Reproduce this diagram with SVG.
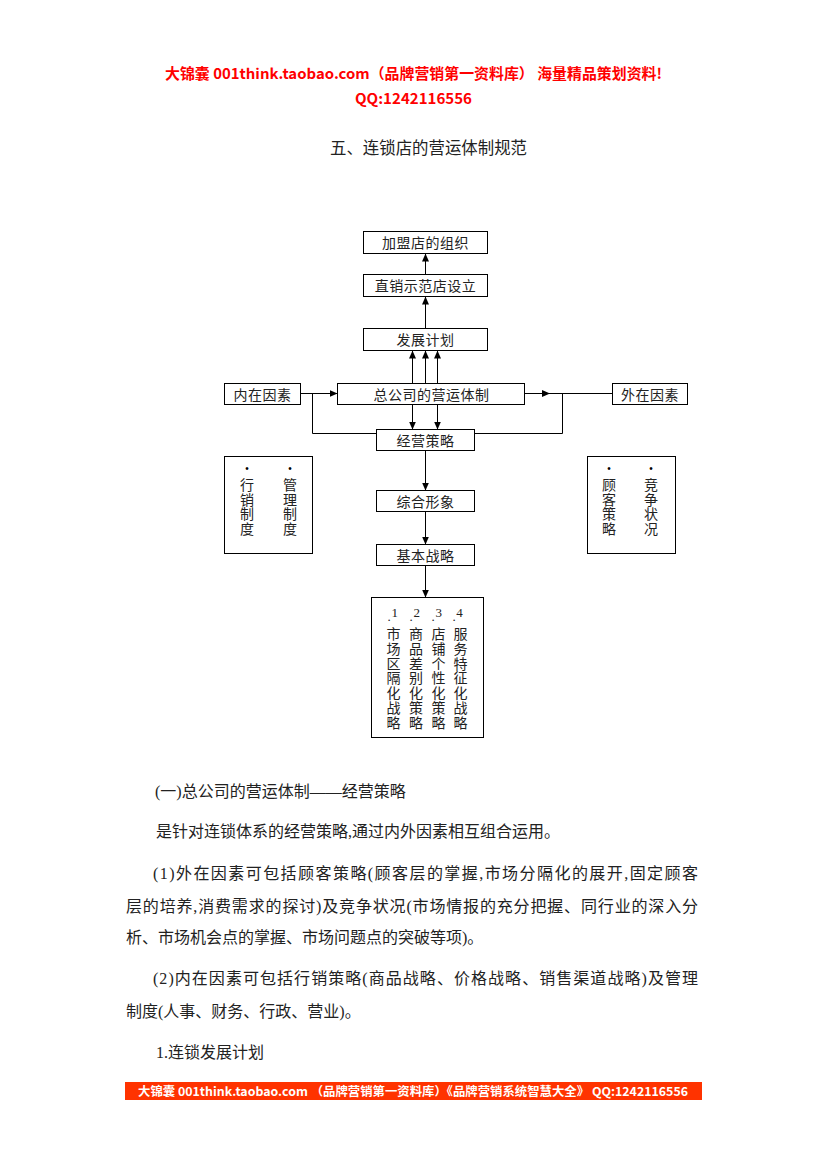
<svg xmlns="http://www.w3.org/2000/svg" width="827" height="1169" viewBox="0 0 827 1169">
<defs>
<marker id="ah" markerUnits="userSpaceOnUse" markerWidth="8" markerHeight="8" refX="8" refY="4" orient="auto" viewBox="0 0 8 8"><path d="M0,0.5 L8,4 L0,7.5 z" fill="#000"/></marker>
</defs>
<style>
.box{fill:#fff;stroke:#000;stroke-width:1}
.lbl{font-family:"Noto Sans CJK SC",sans-serif;font-size:14px;letter-spacing:0.5px;fill:#222;text-anchor:middle}
.vcol{font-family:"Noto Sans CJK SC",sans-serif;font-size:14px;fill:#222;writing-mode:vertical-rl;text-orientation:upright}
.v1{letter-spacing:0.5px}
.v2{letter-spacing:0.7px}
.num{font-family:"Liberation Serif","Noto Sans CJK SC",serif;font-size:13px;fill:#222;text-anchor:middle}
.bul{font-family:"Liberation Sans",sans-serif;font-size:10px;fill:#000;text-anchor:middle}
.ln{fill:none;stroke:#000;stroke-width:1}
.arr{fill:none;stroke:#000;stroke-width:1;marker-end:url(#ah)}
.body{font-family:"Liberation Serif","Noto Sans CJK SC",serif;font-size:16px;fill:#222}
.hdr{font-family:"Noto Sans CJK SC",sans-serif;font-weight:bold;font-size:14.5px;fill:#f00;text-anchor:middle}
.ttl{font-family:"Noto Sans CJK SC",sans-serif;font-size:16.5px;fill:#222;text-anchor:middle}
.ftr{font-family:"Noto Sans CJK SC",sans-serif;font-weight:bold;font-size:12px;fill:#fff}
</style>
<rect width="827" height="1169" fill="#fff"/>

<g id="header">
<text class="hdr" x="413.5" y="79" textLength="497" lengthAdjust="spacingAndGlyphs">大锦囊  001think.taobao.com（品牌营销第一资料库） 海量精品策划资料!</text>
<text class="hdr" x="413.5" y="104" textLength="117" lengthAdjust="spacingAndGlyphs">QQ:1242116556</text>
<text class="ttl" x="428.5" y="154" textLength="197" lengthAdjust="spacingAndGlyphs">五、连锁店的营运体制规范</text>
</g>

<g id="connectors">
<path class="arr" d="M425.5,274.5 V253.5"/>
<path class="arr" d="M425.5,328.5 V296.5"/>
<path class="arr" d="M412.5,383.5 V350.5"/>
<path class="arr" d="M425.5,383.5 V350.5"/>
<path class="arr" d="M437.5,383.5 V350.5"/>
<path class="arr" d="M300.5,393.5 H337.5"/>
<path class="ln" d="M312.5,393.5 V433.5 H376.5"/>
<path class="arr" d="M524.5,393.5 H550"/>
<path class="ln" d="M550,393.5 H612.5"/>
<path class="ln" d="M562.5,393.5 V433.5 H474.5"/>
<path class="arr" d="M412.5,404.5 V429.5"/>
<path class="arr" d="M437.5,404.5 V429.5"/>
<path class="arr" d="M425.5,450.5 V490.5"/>
<path class="arr" d="M425.5,511.5 V544.5"/>
<path class="arr" d="M425.5,565.5 V597.5"/>
</g>

<g id="n-jiameng">
<rect class="box" x="363.5" y="231.5" width="124" height="22"/>
<text class="lbl" x="425.5" y="248">加盟店的组织</text>
</g>
<g id="n-zhixiao">
<rect class="box" x="363.5" y="274.5" width="124" height="22"/>
<text class="lbl" x="425.5" y="291">直销示范店设立</text>
</g>
<g id="n-fazhan">
<rect class="box" x="363.5" y="328.5" width="124" height="22"/>
<text class="lbl" x="425.5" y="345">发展计划</text>
</g>
<g id="n-zonggongsi">
<rect class="box" x="337.5" y="383.5" width="187" height="21"/>
<text class="lbl" x="431.5" y="399.5">总公司的营运体制</text>
</g>
<g id="n-neizai">
<rect class="box" x="224.5" y="383.5" width="76" height="21"/>
<text class="lbl" x="262.5" y="399.5">内在因素</text>
</g>
<g id="n-waizai">
<rect class="box" x="612.5" y="383.5" width="75" height="21"/>
<text class="lbl" x="650" y="399.5">外在因素</text>
</g>
<g id="n-jingying">
<rect class="box" x="376.5" y="429.5" width="98" height="21"/>
<text class="lbl" x="425.5" y="445.5">经营策略</text>
</g>
<g id="n-zonghe">
<rect class="box" x="376.5" y="490.5" width="98" height="21"/>
<text class="lbl" x="425.5" y="506.5">综合形象</text>
</g>
<g id="n-jiben">
<rect class="box" x="376.5" y="544.5" width="98" height="21"/>
<text class="lbl" x="425.5" y="560.5">基本战略</text>
</g>

<g id="n-inner-list">
<rect class="box" x="224.5" y="456.5" width="88" height="97"/>
<text class="bul" x="247" y="471.5">•</text>
<text class="bul" x="290" y="471.5">•</text>
<text class="vcol v1" x="247" y="478">行销制度</text>
<text class="vcol v1" x="290" y="478">管理制度</text>
</g>

<g id="n-outer-list">
<rect class="box" x="587.5" y="456.5" width="88" height="97"/>
<text class="bul" x="609" y="471.5">•</text>
<text class="bul" x="651" y="471.5">•</text>
<text class="vcol v1" x="609" y="478">顾客策略</text>
<text class="vcol v1" x="651" y="478">竞争状况</text>
</g>

<g id="n-strategies">
<rect class="box" x="371.5" y="597.5" width="112" height="140"/>
<text class="num" x="394.7" y="617">1</text>
<text class="num" x="416.7" y="617">2</text>
<text class="num" x="438.7" y="617">3</text>
<text class="num" x="459.5" y="617">4</text>
<text class="num" x="389" y="621">.</text>
<text class="num" x="411" y="621">.</text>
<text class="num" x="433" y="621">.</text>
<text class="num" x="454" y="621">.</text>
<text class="vcol v2" x="393.5" y="627">市场区隔化战略</text>
<text class="vcol v2" x="416" y="627">商品差别化策略</text>
<text class="vcol v2" x="438.5" y="627">店铺个性化策略</text>
<text class="vcol v2" x="460.5" y="627">服务特征化战略</text>
</g>

<g id="body">
<text class="body" x="155" y="797">(一)总公司的营运体制——经营策略</text>
<text class="body" x="156" y="837">是针对连锁体系的经营策略,通过内外因素相互组合运用。</text>
<text class="body" x="153" y="879" textLength="545" lengthAdjust="spacing">(1)外在因素可包括顾客策略(顾客层的掌握,市场分隔化的展开,固定顾客</text>
<text class="body" x="126" y="912" textLength="572" lengthAdjust="spacing">层的培养,消费需求的探讨)及竞争状况(市场情报的充分把握、同行业的深入分</text>
<text class="body" x="126" y="943">析、市场机会点的掌握、市场问题点的突破等项)。</text>
<text class="body" x="153" y="984" textLength="545" lengthAdjust="spacing">(2)内在因素可包括行销策略(商品战略、价格战略、销售渠道战略)及管理</text>
<text class="body" x="126" y="1017">制度(人事、财务、行政、营业)。</text>
<text class="body" x="156" y="1058">1.连锁发展计划</text>
</g>

<g id="footer">
<rect x="125" y="1082" width="577" height="18" fill="#ff3300"/>
<text class="ftr" x="138" y="1095.5" textLength="550" lengthAdjust="spacingAndGlyphs">大锦囊   001think.taobao.com （品牌营销第一资料库）《品牌营销系统智慧大全》   QQ:1242116556</text>
</g>
</svg>
